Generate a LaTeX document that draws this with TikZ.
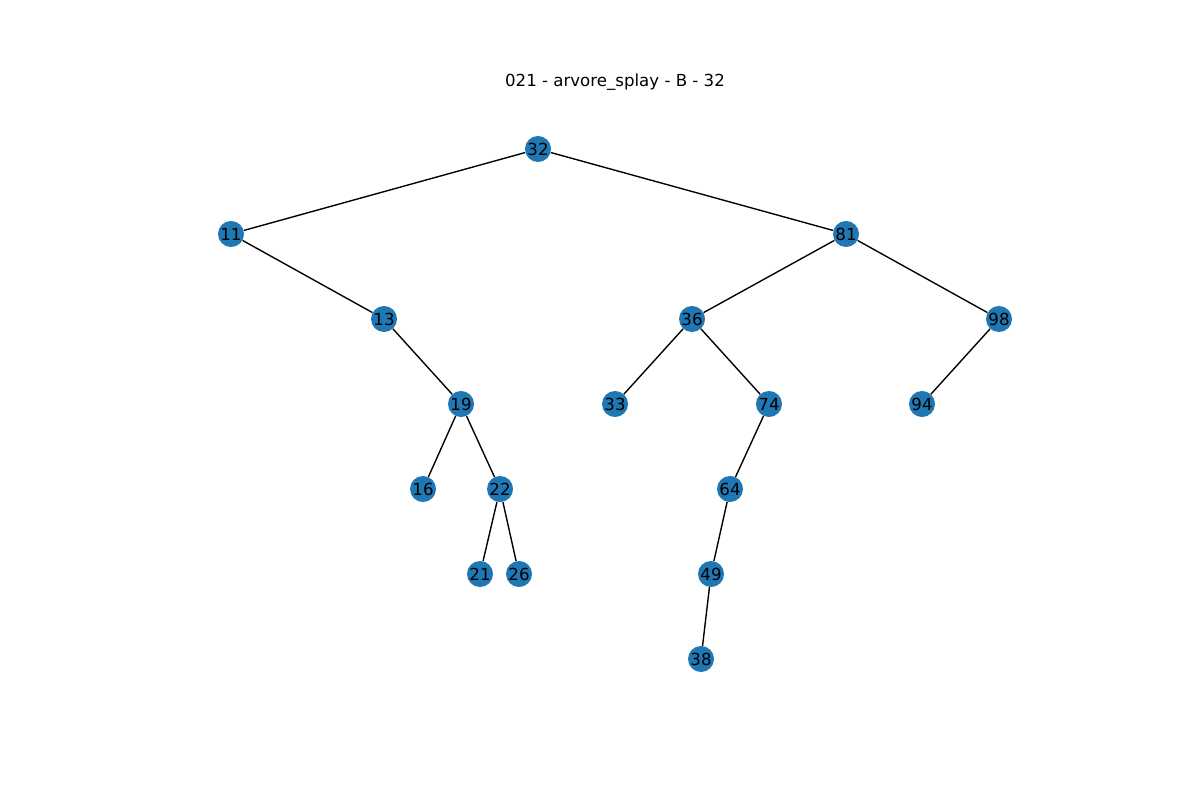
\documentclass[tikz,border=0pt]{standalone}
\usepackage{fontspec}
\setmainfont{DejaVu Sans}
\definecolor{nodeblue}{HTML}{1F77B4}
\begin{document}
\begin{tikzpicture}[x=0.01in,y=-0.01in,
  vert/.style={circle,fill=nodeblue,minimum size=0.26in,inner sep=0pt,font=\fontsize{12}{14}\selectfont},
  edge/.style={black,line width=1pt}]
\useasboundingbox (0,0) rectangle (1200,800);
\node[font=\fontsize{12}{14}\selectfont] (title) at (615,82) {021 - arvore\_splay - B - 32};
% tree vertices
\node[vert] (n32) at (538,149) {32};
\node[vert] (n11) at (231,234) {11};
\node[vert] (n81) at (846,234) {81};
\node[vert] (n13) at (384,319) {13};
\node[vert] (n36) at (692,319) {36};
\node[vert] (n98) at (999,319) {98};
\node[vert] (n19) at (461,404) {19};
\node[vert] (n33) at (615,404) {33};
\node[vert] (n74) at (769,404) {74};
\node[vert] (n94) at (922,404) {94};
\node[vert] (n16) at (423,489) {16};
\node[vert] (n22) at (500,489) {22};
\node[vert] (n64) at (730,489) {64};
\node[vert] (n21) at (480,574) {21};
\node[vert] (n26) at (519,574) {26};
\node[vert] (n49) at (711,574) {49};
\node[vert] (n38) at (701,659) {38};
% edges
\foreach \a/\b in {n32/n11,n32/n81,n11/n13,n13/n19,n19/n16,n19/n22,n22/n21,n22/n26,
                   n81/n36,n81/n98,n36/n33,n36/n74,n74/n64,n64/n49,n49/n38,n98/n94}
  \draw[edge] (\a) -- (\b);
\end{tikzpicture}
\end{document}
